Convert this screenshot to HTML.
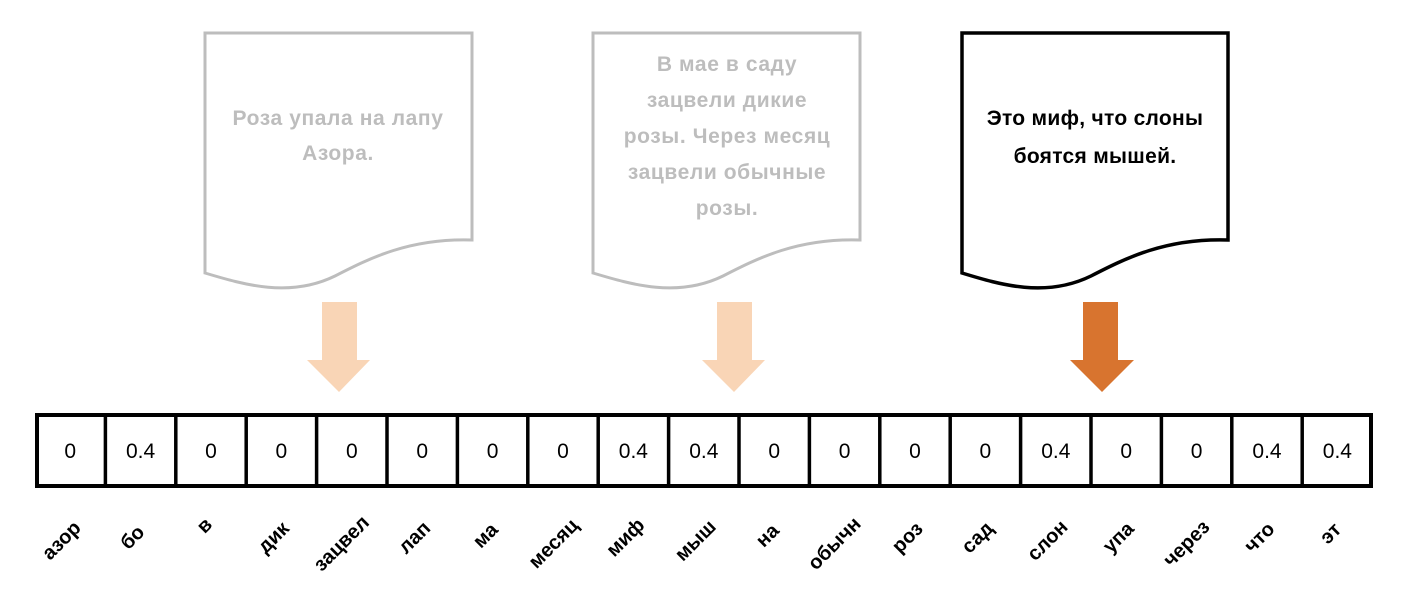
<!DOCTYPE html>
<html><head><meta charset="utf-8"><style>
html,body{margin:0;padding:0;background:#fff;}
svg{display:block;font-family:"Liberation Sans","DejaVu Sans",sans-serif;font-weight:bold;}
</style></head><body>
<svg width="1422" height="598" viewBox="0 0 1422 598" xmlns="http://www.w3.org/2000/svg">
<path d="M205,33 H472 V240 C410,238 370,258 335,276 C290,298 245,285 205,273 Z" fill="#fff" stroke="#bdbdbd" stroke-width="3"/>
<path d="M593,33 H860 V240 C798,238 758,258 723,276 C678,298 633,285 593,273 Z" fill="#fff" stroke="#bdbdbd" stroke-width="3"/>
<path d="M962,33 H1228 V240 C1166,238 1126,258 1091,276 C1046,298 1001,285 962,273 Z" fill="#fff" stroke="#000" stroke-width="3.5"/>
<g font-size="21" text-anchor="middle" fill="#bdbdbd" letter-spacing="0.6">
<text x="338" y="125">Роза упала на лапу</text>
<text x="338" y="160">Азора.</text>
<text x="727" y="71">В мае в саду</text>
<text x="727" y="107">зацвели дикие</text>
<text x="727" y="143">розы. Через месяц</text>
<text x="727" y="179">зацвели обычные</text>
<text x="727" y="215">розы.</text>
</g>
<g font-size="21" text-anchor="middle" fill="#000" letter-spacing="0.3">
<text x="1095" y="125">Это миф, что слоны</text>
<text x="1095" y="163">боятся мышей.</text>
</g>
<path d="M322,302 H357 V360 H370 L339,392 L307,360 H322 Z" fill="#f9d5b6"/>
<path d="M717,302 H752 V360 H765 L734,392 L702,360 H717 Z" fill="#f9d5b6"/>
<path d="M1083,302 H1118 V360 H1134 L1102,392 L1070,360 H1083 Z" fill="#d8742f"/>
<rect x="37" y="415" width="1334" height="71" fill="#fff" stroke="#000" stroke-width="4"/>
<g stroke="#000" stroke-width="3.5">
<line x1="105.4" y1="415" x2="105.4" y2="486"/><line x1="175.8" y1="415" x2="175.8" y2="486"/><line x1="246.2" y1="415" x2="246.2" y2="486"/><line x1="316.6" y1="415" x2="316.6" y2="486"/><line x1="387" y1="415" x2="387" y2="486"/><line x1="457.4" y1="415" x2="457.4" y2="486"/><line x1="527.8" y1="415" x2="527.8" y2="486"/><line x1="598.2" y1="415" x2="598.2" y2="486"/><line x1="668.6" y1="415" x2="668.6" y2="486"/><line x1="739" y1="415" x2="739" y2="486"/><line x1="809.4" y1="415" x2="809.4" y2="486"/><line x1="879.8" y1="415" x2="879.8" y2="486"/><line x1="950.2" y1="415" x2="950.2" y2="486"/><line x1="1020.6" y1="415" x2="1020.6" y2="486"/><line x1="1091" y1="415" x2="1091" y2="486"/><line x1="1161.4" y1="415" x2="1161.4" y2="486"/><line x1="1231.8" y1="415" x2="1231.8" y2="486"/><line x1="1302.2" y1="415" x2="1302.2" y2="486"/>
</g>
<g font-size="21" text-anchor="middle" fill="#000" style="font-weight:normal">
<text x="70.2" y="458">0</text><text x="140.6" y="458">0.4</text><text x="211" y="458">0</text><text x="281.4" y="458">0</text><text x="351.8" y="458">0</text><text x="422.2" y="458">0</text><text x="492.6" y="458">0</text><text x="563" y="458">0</text><text x="633.4" y="458">0.4</text><text x="703.8" y="458">0.4</text><text x="774.2" y="458">0</text><text x="844.6" y="458">0</text><text x="915" y="458">0</text><text x="985.4" y="458">0</text><text x="1055.8" y="458">0.4</text><text x="1126.2" y="458">0</text><text x="1196.6" y="458">0</text><text x="1267" y="458">0.4</text><text x="1337.4" y="458">0.4</text>
</g>
<g font-size="20" text-anchor="middle" fill="#000">
<text transform="translate(66,545) rotate(-45)">азор</text>
<text transform="translate(137,542) rotate(-45)">бо</text>
<text transform="translate(209,530) rotate(-45)">в</text>
<text transform="translate(278,542) rotate(-45)">дик</text>
<text transform="translate(346,548) rotate(-45)">зацвел</text>
<text transform="translate(419,542) rotate(-45)">лап</text>
<text transform="translate(490,540) rotate(-45)">ма</text>
<text transform="translate(558,548) rotate(-45)">месяц</text>
<text transform="translate(630,542) rotate(-45)">миф</text>
<text transform="translate(700,545) rotate(-45)">мыш</text>
<text transform="translate(772,540) rotate(-45)">на</text>
<text transform="translate(839,548) rotate(-45)">обычн</text>
<text transform="translate(912,542) rotate(-45)">роз</text>
<text transform="translate(982,542) rotate(-45)">сад</text>
<text transform="translate(1052,545) rotate(-45)">слон</text>
<text transform="translate(1123,542) rotate(-45)">упа</text>
<text transform="translate(1191,548) rotate(-45)">через</text>
<text transform="translate(1264,542) rotate(-45)">что</text>
<text transform="translate(1335,538) rotate(-45)">эт</text>
</g>
</svg>
</body></html>
